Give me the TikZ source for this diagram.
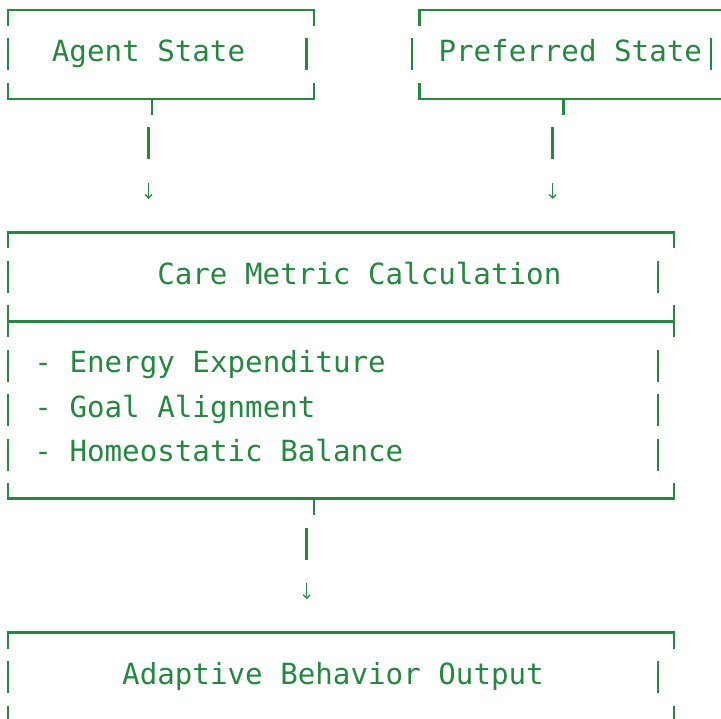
\documentclass[tikz,border=0pt]{standalone}
\usepackage{fontspec}
\setmonofont{DejaVu Sans Mono}
\usetikzlibrary{arrows.meta}
\definecolor{ink}{RGB}{34,137,62}
\begin{document}
\begin{tikzpicture}[x=1pt,y=-1pt,
  box/.style={draw=ink,line width=2.6pt,line join=miter},
  bar/.style={draw=ink,line width=2.6pt},
  lbl/.style={anchor=base west,inner sep=0pt,outer sep=0pt,text=ink,font=\fontsize{29.18}{35}\selectfont\ttfamily},
  arr/.style={draw=ink,line width=1.3pt,-{Straight Barb[length=3.5pt,width=7pt]}}]
\useasboundingbox (0,0) rectangle (721,719);
\clip (0,0) rectangle (721,719);

% ---------- Agent State box ----------
\draw[box] (8,26)--(8,10)--(314,10)--(314,26);
\draw[bar] (8,38.5)--(8,70.5);
\draw[bar] (306.7,38.5)--(306.7,70.5);
\node[lbl] (agent) at (51.9,61.7) {Agent State};
\draw[box] (8,83)--(8,99)--(314,99)--(314,83);
\coordinate (agentT) at (152,99);
\coordinate (agentB1) at (148.6,127.4);
\coordinate (agentB2) at (148.6,159.4);
\coordinate (agentA1) at (148.6,182.9);
\coordinate (agentA2) at (148.6,198.9);
\draw[box] (agentT) -- ++(0,16);
\draw[bar] (agentB1) -- (agentB2);
\draw[arr] (agentA1) -- (agentA2);

% ---------- Preferred State box ----------
\draw[box] (419.3,26)--(419.3,10)--(730,10);
\draw[bar] (412.1,38.5)--(412.1,70.5);
\draw[bar] (710.8,38.5)--(710.8,70.5);
\node[lbl] (pref) at (438.5,61.7) {Preferred State};
\draw[box] (419.3,83)--(419.3,99)--(730,99);
\coordinate (prefT) at (563.3,99);
\coordinate (prefB1) at (552.7,127.4);
\coordinate (prefB2) at (552.7,159.4);
\coordinate (prefA1) at (552.7,182.9);
\coordinate (prefA2) at (552.7,198.9);
\draw[box] (prefT) -- ++(0,16);
\draw[bar] (prefB1) -- (prefB2);
\draw[arr] (prefA1) -- (prefA2);

% ---------- Care Metric Calculation box ----------
\draw[box] (8,248.4)--(8,232.4)--(674,232.4)--(674,248.4);
\draw[bar] (8,260.9)--(8,292.9);
\draw[bar] (658.1,260.9)--(658.1,292.9);
\node[lbl] (care) at (157.3,284.1) {Care Metric Calculation};
\draw[box] (8,305.4)--(8,337.4);
\draw[box] (674,305.4)--(674,337.4);
\draw[box] (8,321.4)--(674,321.4);
\foreach \yy in {365.8,410.3,454.8}{
  \draw[bar] (8,\yy-16)--(8,\yy+16);
  \draw[bar] (658.1,\yy-16)--(658.1,\yy+16);
}
\node[lbl] (e1) at (34.4,373.0) {- Energy Expenditure};
\node[lbl] (e2) at (34.4,417.5) {- Goal Alignment};
\node[lbl] (e3) at (34.4,462.0) {- Homeostatic Balance};
\draw[box] (8,482.8)--(8,498.8)--(674,498.8)--(674,482.8);
\coordinate (careT) at (314,498.8);
\coordinate (careB1) at (306.7,527.8);
\coordinate (careB2) at (306.7,559.8);
\coordinate (careA1) at (306.7,583.2);
\coordinate (careA2) at (306.7,599.2);
\draw[box] (careT) -- ++(0,16);
\draw[bar] (careB1) -- (careB2);
\draw[arr] (careA1) -- (careA2);

% ---------- Adaptive Behavior Output box ----------
\draw[box] (8,648.7)--(8,632.7)--(674,632.7)--(674,648.7);
\draw[bar] (8,661.2)--(8,693.2);
\draw[bar] (658.1,661.2)--(658.1,693.2);
\node[lbl] (out) at (122.2,684.4) {Adaptive Behavior Output};
\draw[box] (8,705.7)--(8,730);
\draw[box] (674,705.7)--(674,730);
\end{tikzpicture}
\end{document}
